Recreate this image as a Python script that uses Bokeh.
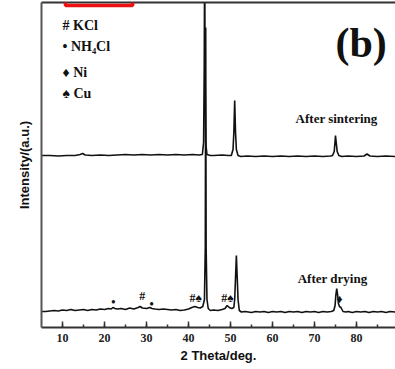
from bokeh.plotting import figure
from bokeh.models import Range1d, FixedTicker, Label, BoxAnnotation, LinearAxis
from bokeh.embed import file_html
from bokeh.resources import INLINE

# ---- data (2 theta in degrees, intensity in a.u.) ----
dry_theta = [5, 6, 7, 8, 9, 10, 11, 12, 13, 14, 15, 16, 17, 18, 19, 20, 21, 21.6, 22, 22.5,
             23, 24, 25, 26, 27, 28, 28.5, 29, 30, 30.8, 31.3, 32, 33, 34, 35, 36, 37, 38, 39, 40,
             40.8, 41.5, 42.2, 42.8, 43.4, 43.8, 44.0, 44.1, 44.2, 44.4, 44.7, 45.2, 46, 47, 48,
             48.7, 49.2, 49.7, 50.3, 50.8, 51.0, 51.2, 51.4, 51.6, 51.8, 52.1, 52.6, 53.5, 55, 56,
             57, 58, 59, 60, 61, 62, 63, 64, 65, 66, 67, 68, 69, 70, 71, 72, 73, 74, 74.6, 74.9,
             75.1, 75.3, 75.5, 75.7, 75.95, 76.3, 76.8, 77.5, 78, 79, 80, 81, 82, 83, 84, 85, 86,
             87, 88, 89.3]
dry_int = [16, 16, 16.5, 17, 16.5, 17.5, 17, 18, 17, 17.5, 18, 17, 18, 17.5, 18.5, 18, 19, 18.5, 20, 19,
           18.5, 19, 18, 19.5, 18.5, 20, 21, 19.5, 19, 20, 19, 18.5, 18, 18.5, 18, 17.5, 18, 17, 17.5, 18.5,
           20, 21, 20, 19.5, 21, 28, 80, 300, 80, 28, 19, 17, 17.5, 17, 18,
           19, 22, 20, 19, 20, 28, 50, 72, 50, 28, 17, 15.5, 16, 15, 16,
           15.5, 16, 15, 16, 15.5, 16, 15, 16, 15.5, 16, 15, 16, 15.5, 16, 15, 16, 15.5, 16, 17, 22,
           33, 39, 33, 24, 21, 20, 16, 15.5, 16, 15, 16, 15.5, 16, 15, 16, 15.5, 16,
           15, 16, 15.5]

sint_theta = [5, 7, 9, 11, 13, 14.2, 14.8, 15.4, 17, 19, 21, 23, 25, 27, 29, 31, 33, 35, 37, 39,
              41, 42.5, 43.3, 43.6, 43.75, 43.85, 43.95, 44.1, 44.4, 45.2, 46, 48, 49.5, 50.2, 50.6,
              50.8, 51.0, 51.2, 51.4, 51.8, 52.5, 54, 56, 58, 60, 62, 64, 66, 68, 70, 72, 73.8, 74.3,
              74.7, 74.9, 75.0, 75.15, 75.4, 75.8, 76.5, 78, 80, 81.8, 82.5, 83.2, 85, 87, 89.3]
sint_int = [172, 172, 171.5, 172, 172, 173, 174, 172.5, 172, 172.5, 172, 172.5, 173, 172.5, 173, 172.5, 173, 172.5, 173, 172.5,
            173, 172.5, 173, 185, 260, 380, 260, 185, 173, 172, 172, 172.5, 172, 172, 178,
            195, 227, 195, 178, 172, 171, 171.5, 171, 171.5, 171, 171.5, 171, 171.5, 171, 171.5, 171, 171.5, 172,
            176, 186, 192, 186, 176, 172, 171, 171.5, 171, 171.5, 173.5, 171.5, 171, 171.5, 171]

x_ticks = [10, 20, 30, 40, 50, 60, 70, 80]
x_minor = [10, 15, 20, 25, 30, 35, 40, 45, 50, 55, 60, 65, 70, 75, 80, 85]

legend_texts = ["# KCl", "• NH₄Cl", "♦ Ni", "♠ Cu"]
legend_y = [302, 281, 255, 234]

peak_marks = ["•", "#", "•", "#♠", "#♠", "♦"]
peak_theta = [22.1, 29.0, 31.2, 41.7, 49.3, 76.0]
peak_y = [26, 32, 24, 30, 30, 29]

p = figure(width=395, height=369, x_range=Range1d(5, 89.29), y_range=Range1d(0, 325),
           output_backend="svg", toolbar_location=None,
           min_border_left=41, min_border_right=0, min_border_top=2, min_border_bottom=42)
p.outline_line_color = None
p.background_fill_color = "white"
p.border_fill_color = "white"
p.xgrid.grid_line_color = None
p.ygrid.grid_line_color = None

# curves
p.line(sint_theta, sint_int, line_color="#111111", line_width=1.6)
p.line(dry_theta, dry_int, line_color="#111111", line_width=1.6)

# x axis
xa = p.xaxis[0]
xa.ticker = FixedTicker(ticks=x_ticks, minor_ticks=x_minor)
xa.axis_line_color = "#333333"
xa.axis_line_width = 2
xa.major_tick_in = 6
xa.major_tick_out = 0
xa.minor_tick_in = 3
xa.minor_tick_out = 0
xa.major_tick_line_color = "#333333"
xa.minor_tick_line_color = "#333333"
xa.major_tick_line_width = 1.5
xa.minor_tick_line_width = 1.5
xa.major_label_standoff = 6
xa.major_label_text_font = "Liberation Sans Narrow"
xa.major_label_text_font_style = "bold"
xa.major_label_text_font_size = "12px"
xa.major_label_text_color = "#222222"
xa.axis_label = "2 Theta/deg."
xa.axis_label_text_font = "Liberation Sans"
xa.axis_label_text_font_style = "bold"
xa.axis_label_text_font_size = "13px"
xa.axis_label_text_color = "#111111"
xa.axis_label_standoff = 3

# y axis
ya = p.yaxis[0]
ya.ticker = FixedTicker(ticks=[])
ya.axis_line_color = "#555555"
ya.axis_line_width = 2
ya.major_tick_line_color = None
ya.minor_tick_line_color = None
ya.axis_label = "Intensity/(a.u.)"
ya.axis_label_text_font = "Liberation Sans"
ya.axis_label_text_font_style = "bold"
ya.axis_label_text_font_size = "13px"
ya.axis_label_text_color = "#111111"
ya.axis_label_standoff = 10

# top frame line
top = LinearAxis(ticker=FixedTicker(ticks=[]), axis_line_color="#333333", axis_line_width=2,
                 major_tick_line_color=None, minor_tick_line_color=None)
p.add_layout(top, "above")

# partially visible "90" tick label at the cut right edge
p.add_layout(Label(x=90, y=-13, text="90", text_align="center", text_baseline="middle",
                   text_font="Liberation Sans Narrow", text_font_style="bold",
                   text_font_size="12px", text_color="#222222"))

# legend text
for t, y in zip(legend_texts, legend_y):
    p.add_layout(Label(x=10.0, y=y, text=t, text_align="left", text_baseline="middle",
                       text_font="Liberation Serif", text_font_style="bold",
                       text_font_size="14px", text_color="#111111"))

# panel tag and curve names
p.add_layout(Label(x=75.0, y=285, text="(b)", text_align="left", text_baseline="middle",
                   text_font="Liberation Serif", text_font_style="bold",
                   text_font_size="42px", text_color="#111111"))
p.add_layout(Label(x=65.5, y=209, text="After sintering", text_align="left", text_baseline="middle",
                   text_font="Liberation Serif", text_font_style="bold",
                   text_font_size="13px", text_color="#111111"))
p.add_layout(Label(x=66.0, y=49, text="After drying", text_align="left", text_baseline="middle",
                   text_font="Liberation Serif", text_font_style="bold",
                   text_font_size="13px", text_color="#111111"))

# phase marks on the dried pattern
for t, x, y in zip(peak_marks, peak_theta, peak_y):
    p.add_layout(Label(x=x, y=y, text=t, text_align="center", text_baseline="middle",
                       text_font="Liberation Serif", text_font_style="bold",
                       text_font_size="12px", text_color="#111111"))

# red highlight box from the source figure
p.add_layout(BoxAnnotation(left=10.7, right=26.7, bottom=322, top=340,
                           fill_color=None, fill_alpha=0, line_color="#ee1111",
                           line_alpha=1.0, line_width=3.5))

open("out.html", "w").write(file_html(p, INLINE))
